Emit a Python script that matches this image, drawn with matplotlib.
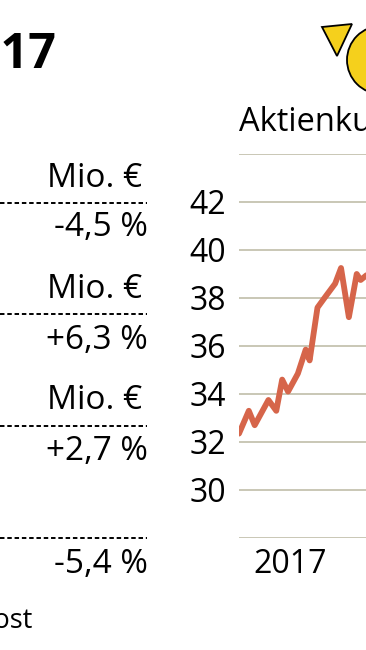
import matplotlib.pyplot as plt
from matplotlib.patches import Circle, Polygon

plt.rcParams["font.family"] = ["Open Sans", "DejaVu Sans"]

# Kennzahlen links (nur Einheit + Veraenderung sichtbar)
units = ["Mio. €", "Mio. €", "Mio. €", ""]
changes = ["-4,5 %", "+6,3 %", "+2,7 %", "-5,4 %"]

# Aktienkurs (Euro), x = Wochen ab Anfang 2017
weeks = [0, 5, 8, 15, 19, 22, 25, 30, 34, 36, 40, 44, 49, 52, 56, 60, 62, 65]
price = [32.35, 33.3, 32.7, 33.75, 33.3, 34.6, 34.1, 34.85, 35.85, 35.4,
         37.6, 38.05, 38.6, 39.25, 37.2, 39.0, 38.75, 38.95]
yticks = [28, 30, 32, 34, 36, 38, 40, 42, 44]
ylabels = ["", "30", "32", "34", "36", "38", "40", "42", ""]

W, H = 366, 650
fig = plt.figure(figsize=(W / 100, H / 100), dpi=100)

# Hintergrund-Achse in Pixelkoordinaten
bg = fig.add_axes([0, 0, 1, 1])
bg.set_xlim(0, W)
bg.set_ylim(H, 0)
bg.axis("off")

bg.text(56, 68, "2017", fontsize=35, fontweight="bold", ha="right", va="baseline",
        family=["Liberation Sans Narrow", "Open Sans", "DejaVu Sans"])

unit_y = [187, 298, 409, 0]
line_y = [202.5, 314, 426, 538]
chg_y = [236, 349, 460, 573]
for u, c, uy, ly, cy in zip(units, changes, unit_y, line_y, chg_y):
    if u:
        bg.text(142, uy, u, fontsize=24, ha="right", va="baseline")
    bg.plot([0, 147], [ly, ly], color="black", lw=1.4, linestyle=(0, (2.3, 1.45)))
    bg.text(148, cy, c, fontsize=24, ha="right", va="baseline")

bg.text(32, 628, "Quelle: Post", fontsize=19.5, ha="right", va="baseline")

# Post-Logo (angeschnitten)
bg.add_patch(Polygon([(322, 27), (352, 24), (337, 56)], closed=True,
                     fc="#f5d01c", ec="black", lw=1.3))
bg.add_patch(Circle((381, 60), 34, fc="#f5d01c", ec="black", lw=1.3))
bg.text(239, 131, "Aktienkurs", fontsize=23.5, ha="left", va="baseline")

# Kurs-Chart
ax = fig.add_axes([239 / W, 112 / H, 361 / W, 384 / H])
ax.patch.set_alpha(0)
ax.plot(weeks, price, color="#d6654a", lw=4.2, solid_joinstyle="round",
        solid_capstyle="round", zorder=3)
ax.set_xlim(0, 184)
ax.set_ylim(28, 44)
ax.set_yticks(yticks)
ax.set_yticklabels(ylabels)
ax.set_xticks([26])
ax.set_xticklabels(["2017"])
ax.grid(axis="y", color="#c9c7b5", lw=1.4)
ax.tick_params(length=0, labelsize=23, pad=9)
ax.tick_params(axis="x", pad=7)
for s in ax.spines.values():
    s.set_visible(False)

fig.savefig("out.png", dpi=100)
